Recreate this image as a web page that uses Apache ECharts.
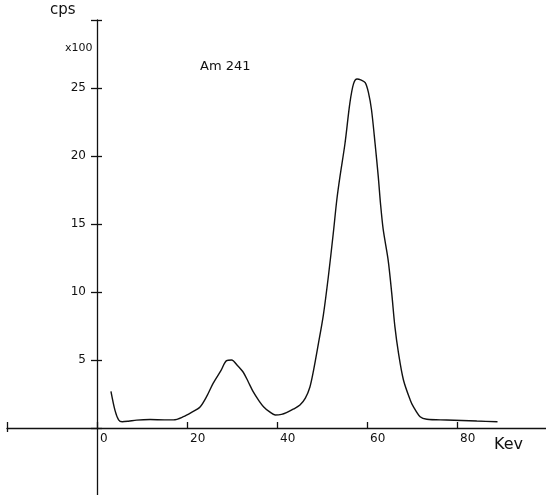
<!DOCTYPE html>
<html>
<head>
<meta charset="utf-8">
<script src="https://cdn.jsdelivr.net/npm/echarts@6/dist/echarts.min.js"></script>
<style>
html,body{margin:0;padding:0;background:#fff;}
#chart{width:546px;height:495px;}
</style>
</head>
<body>
<div id="chart"></div>
<script>
// Energy (keV) and count rate (cps x100)
var energy = [3.1, 4.0, 4.8, 5.6, 7, 8.8, 11.8, 15, 17, 19.2, 21, 22.9, 24.5, 25.8, 27.5, 28.8, 29.9, 31.2, 32.5, 33.6, 34.7, 36, 37, 38.3, 39.6, 41, 42.1, 43.7, 45.1, 46.3, 47.3, 48.1, 49.2, 50.3, 51.4, 52.5, 53.3, 54, 55.1, 56.2, 57, 57.8, 58.6, 59.6, 60.3, 61, 61.8, 62.5, 63, 63.6, 64.7, 65.5, 66.2, 67, 68.1, 69.6, 70.3, 71.8, 73.3, 77.7, 84.4, 89];
var counts = [2.7, 1.3, 0.6, 0.46, 0.5, 0.58, 0.62, 0.6, 0.6, 0.83, 1.15, 1.55, 2.4, 3.28, 4.2, 4.95, 5.0, 4.6, 4.1, 3.4, 2.67, 2.0, 1.57, 1.2, 0.96, 1.0, 1.13, 1.4, 1.69, 2.2, 3.0, 4.2, 6.2, 8.3, 11.1, 14.3, 16.8, 18.5, 20.9, 23.9, 25.3, 25.66, 25.6, 25.4, 24.7, 23.4, 20.9, 18.5, 16.5, 14.6, 12.35, 9.9, 7.45, 5.5, 3.53, 2.06, 1.57, 0.83, 0.64, 0.59, 0.51, 0.46];
var xTickLabels = [0, 20, 40, 60, 80];
var yTickLabels = [5, 10, 15, 20, 25];

var ink = '#111111';
var font = '"DejaVu Sans", "Liberation Sans", sans-serif';
var data = energy.map(function (e, i) { return [e, counts[i]]; });

var hiddenAxis = function (idx, extra) {
  var a = {type: 'value', gridIndex: idx, show: false, axisLine: {onZero: false}, splitLine: {show: false}};
  for (var k in extra) a[k] = extra[k];
  return a;
};

var chart = echarts.init(document.getElementById('chart'), null, {renderer: 'canvas'});
chart.setOption({
  animation: false,
  backgroundColor: '#fff',
  grid: [
    // plotting area: x -20..100, y -5..30
    {left: 7, width: 540, top: 20, height: 476, containLabel: false, outerBoundsMode: 'none'},
    // horizontal axis drawn at y = 0
    {left: 7, width: 540, top: 20, height: 408, containLabel: false, outerBoundsMode: 'none'},
    // vertical axis drawn at x = 0
    {left: 97, width: 450, top: 20, height: 476, containLabel: false, outerBoundsMode: 'none'}
  ],
  xAxis: [
    hiddenAxis(0, {min: -20, max: 100}),
    {
      type: 'value', gridIndex: 1, position: 'bottom', min: -20, max: 100, interval: 20,
      axisLine: {show: true, onZero: false, lineStyle: {color: ink, width: 1.3}},
      axisTick: {show: true, inside: true, length: 6, lineStyle: {color: ink, width: 1.3}},
      axisLabel: {show: true, customValues: xTickLabels, align: 'left', margin: 5, padding: [0, 0, 0, 3],
        color: ink, fontSize: 12, fontFamily: font},
      splitLine: {show: false}
    }, {
      type: 'value', gridIndex: 1, position: 'bottom', min: -20, max: 100, interval: 20,
      axisLine: {show: false, onZero: false},
      axisTick: {show: true, inside: false, length: 4, customValues: [-20], lineStyle: {color: ink, width: 1.3}},
      axisLabel: {show: false},
      splitLine: {show: false}
    },
    hiddenAxis(2, {min: 0, max: 100})
  ],
  yAxis: [
    hiddenAxis(0, {min: -5, max: 30}),
    hiddenAxis(1, {min: 0, max: 30}),
    {
      type: 'value', gridIndex: 2, position: 'left', min: -5, max: 30, interval: 5,
      axisLine: {show: true, onZero: false, lineStyle: {color: ink, width: 1.3}},
      axisTick: {show: true, inside: false, length: 6, lineStyle: {color: ink, width: 1.3}},
      axisLabel: {show: true, customValues: yTickLabels, margin: 11, color: ink, fontSize: 12, fontFamily: font},
      splitLine: {show: false}
    }, {
      type: 'value', gridIndex: 2, position: 'left', min: -5, max: 30, interval: 5,
      axisLine: {show: false, onZero: false},
      axisTick: {show: true, inside: true, length: 5, lineStyle: {color: ink, width: 1.3}},
      axisLabel: {show: false},
      splitLine: {show: false}
    }
  ],
  graphic: [
    {type: 'text', left: 50, top: 3, style: {text: 'cps', fill: ink, font: '15px ' + font}},
    {type: 'text', left: 65, top: 43, style: {text: 'x100', fill: ink, font: '11px ' + font}},
    {type: 'text', left: 200, top: 60, style: {text: 'Am 241', fill: ink, font: '13px ' + font}},
    {type: 'text', left: 494, top: 437, style: {text: 'Kev', fill: ink, font: '16px ' + font}}
  ],
  series: [{
    type: 'line', xAxisIndex: 0, yAxisIndex: 0, data: data,
    smooth: 0.3, showSymbol: false, symbol: 'none',
    lineStyle: {color: ink, width: 1.4}
  }]
});
</script>
</body>
</html>
